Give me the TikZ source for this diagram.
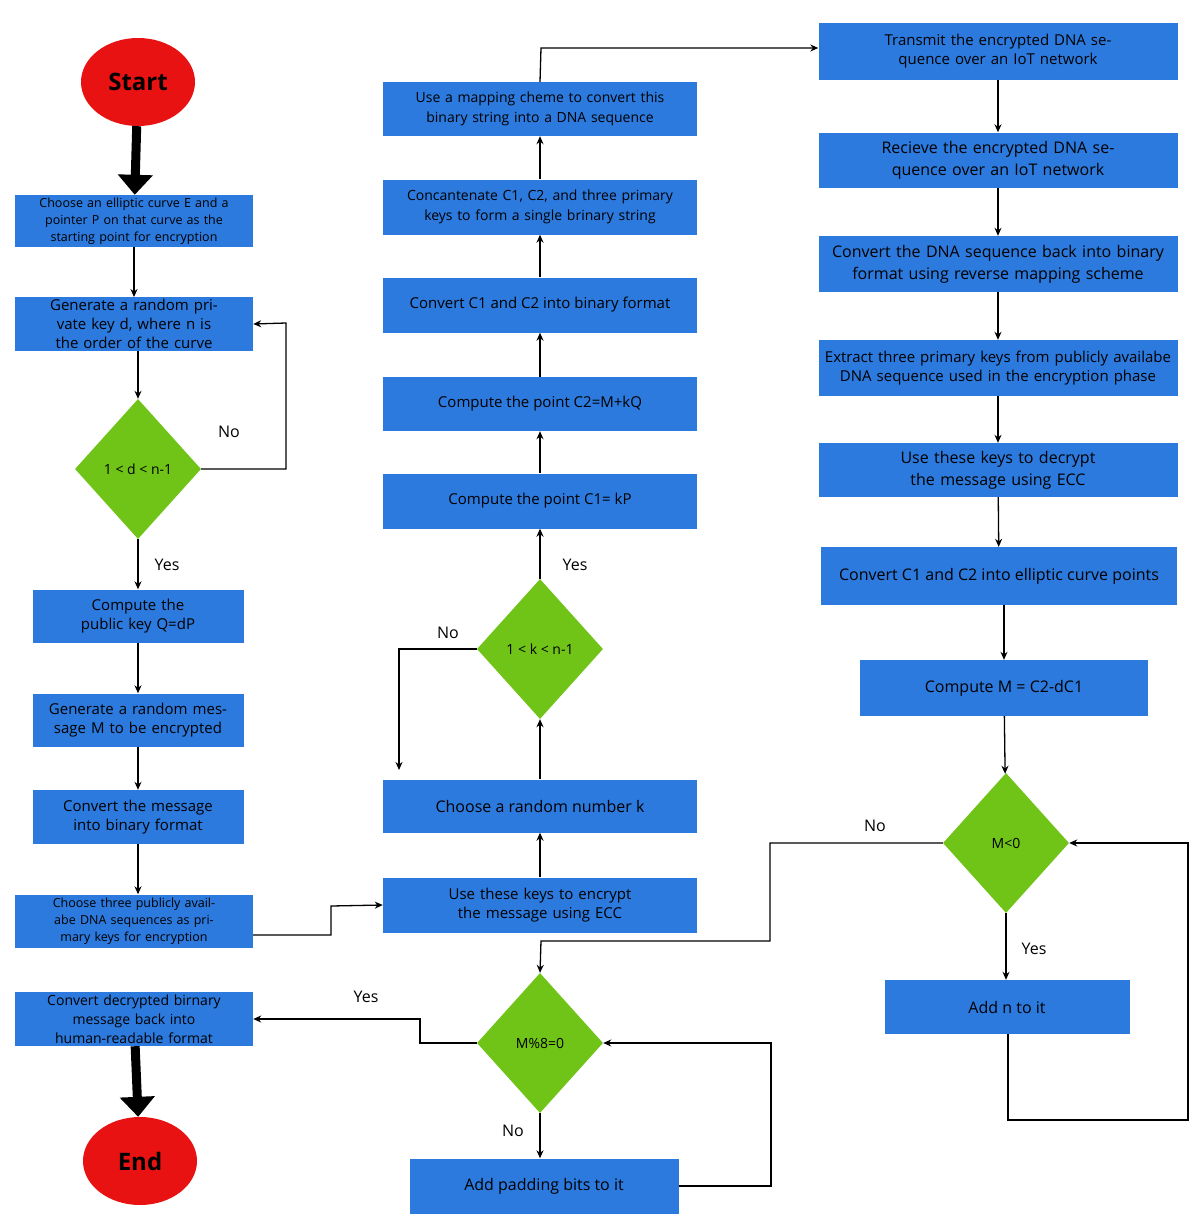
\documentclass[tikz,border=0pt]{standalone}
\usepackage{fontspec}
\setmainfont{Open Sans}
\usetikzlibrary{shapes.geometric,arrows.meta}
\definecolor{bx}{RGB}{44,122,222}
\definecolor{gd}{RGB}{112,196,24}
\definecolor{rd}{RGB}{232,18,18}
\begin{document}
\begin{tikzpicture}[x=1pt,y=-1pt,
 box/.style={fill=bx,draw=none,inner sep=2pt,align=center,minimum height=54pt,font=\fontsize{15}{19}\selectfont},
 sbox/.style={box,font=\fontsize{12.5}{17}\selectfont},
 dia/.style={diamond,fill=gd,draw=none,minimum width=126pt,minimum height=140pt,inner sep=0pt,aspect=0.9,font=\fontsize{14}{17}\selectfont},
 ov/.style={ellipse,fill=rd,minimum width=114pt,minimum height=88pt,font=\bfseries\fontsize{24}{28}\selectfont},
 ar/.style={draw=black,line width=1.3pt,-{Stealth[length=8pt,width=7pt]}},
 big/.style={draw=black,line width=9pt,-{Triangle[length=20pt,width=34pt]}},
 lb/.style={font=\fontsize{16}{19}\selectfont}]
\useasboundingbox (0,0) rectangle (1200,1229);
\fill[white] (0,0) rectangle (1200,1229);
% left column
\node[ov] (start) at (138,82) {Start};
\node[sbox,minimum width=238pt,minimum height=52pt,text width=232pt] (b1) at (134,221) {Choose an elliptic curve E and a pointer P on that curve as the starting point for encryption};
\node[box,minimum width=238pt,minimum height=52pt,text width=232pt] (b2) at (134,324) {Generate a random private key d, where n is the order of the curve};
\node[dia] (d1) at (138,469) {1 < d < n-1};
\node[box,minimum width=211pt,minimum height=53pt,text width=205pt] (b3) at (138,616) {Compute the public key Q=dP};
\node[box,minimum width=211pt,minimum height=53pt,text width=205pt] (b4) at (138,720) {Generate a random message M to be encrypted};
\node[box,minimum width=211pt,minimum height=54pt,text width=205pt] (b5) at (138,817) {Convert the message into binary format};
\node[sbox,minimum width=238pt,minimum height=53pt,text width=232pt] (b6) at (134,921) {Choose three publicly availabe DNA sequences as primary keys for encryption};
\node[sbox,minimum width=238pt,minimum height=54pt,text width=232pt,font=\fontsize{14}{19}\selectfont] (b7) at (134,1019) {Convert decrypted birnary message back into human-readable format};
\node[ov] (end) at (140,1161) {End};
% middle column
\node[box,minimum width=314pt,minimum height=55pt,text width=300pt] (m1) at (540,905) {Use these keys to encrypt the message using ECC};
\node[box,minimum width=314pt,minimum height=53pt,font=\fontsize{16}{19}\selectfont] (m2) at (540,806) {Choose a random number k};
\node[dia] (d2) at (540,649) {1 < k < n-1};
\node[box,minimum width=314pt,minimum height=55pt] (m3) at (540,501) {Compute the point C1= kP};
\node[box,minimum width=314pt,minimum height=54pt] (m4) at (540,404) {Compute the point C2=M+kQ};
\node[box,minimum width=314pt,minimum height=55pt] (m5) at (540,305) {Convert C1 and C2 into binary format};
\node[box,minimum width=314pt,minimum height=55pt,text width=300pt,font=\fontsize{14}{20}\selectfont] (m6) at (540,207) {Concantenate C1, C2, and three primary keys to form a single brinary string};
\node[box,minimum width=314pt,minimum height=54pt,text width=300pt,font=\fontsize{14}{20}\selectfont] (m7) at (540,109) {Use a mapping cheme to convert this binary string into a DNA sequence};
\node[dia] (d3) at (540,1043) {M\%8=0};
\node[box,minimum width=269pt,minimum height=55pt,font=\fontsize{16}{19}\selectfont] (m8) at (544,1186) {Add padding bits to it};
% right column
\node[box,minimum width=359pt,minimum height=57pt,text width=345pt] (r1) at (998,51) {Transmit the encrypted DNA sequence over an IoT network};
\node[box,minimum width=359pt,minimum height=55pt,text width=345pt,font=\fontsize{16}{22}\selectfont] (r2) at (998,160) {Recieve the encrypted DNA sequence over an IoT network};
\node[box,minimum width=359pt,minimum height=56pt,text width=345pt,font=\fontsize{16}{22}\selectfont] (r3) at (998,264) {Convert the DNA sequence back into binary format using reverse mapping scheme};
\node[box,minimum width=359pt,minimum height=56pt,text width=355pt] (r4) at (998,368) {Extract three primary keys from publicly availabe DNA sequence used in the encryption phase};
\node[box,minimum width=359pt,minimum height=54pt,text width=355pt,font=\fontsize{16}{22}\selectfont] (r5) at (998,470) {Use these keys to decrypt the message using ECC};
\node[box,minimum width=356pt,minimum height=58pt,font=\fontsize{16}{19}\selectfont] (r6) at (999,576) {Convert C1 and C2 into elliptic curve points};
\node[box,minimum width=288pt,minimum height=56pt,font=\fontsize{16}{19}\selectfont] (r7) at (1004,688) {Compute M = C2-dC1};
\node[dia] (d4) at (1006,843) {M<0};
\node[box,minimum width=245pt,minimum height=54pt,font=\fontsize{16}{19}\selectfont] (r8) at (1007,1007) {Add n to it};
% connectors
\draw[big] (start) -- (b1);
\draw[big] (b7) -- (end);
\draw[ar] (b1) -- (b2);
\draw[ar] (b2.south -| d1) -- (d1);
\draw[ar] (d1) -- (b3);
\draw[ar] (b3) -- (b4);
\draw[ar] (b4) -- (b5);
\draw[ar] (b5) -- (b6.north -| b5);
\draw[ar] (d1.east) -- (286,469) -- (286,323) -- (b2.east);
\draw[ar] (b6.east |- 0,935) -- (331,935) -- (331,906) -- (m1.west);
\draw[ar] (m1) -- (m2);
\draw[ar] (m2) -- (d2);
\draw[ar] (d2) -- (m3);
\coordinate (kfree) at (399,770);
\draw[ar] (d2.west) -- (399,649) -- (kfree);
\draw[ar] (m3) -- (m4);
\draw[ar] (m4) -- (m5);
\draw[ar] (m5) -- (m6);
\draw[ar] (m6) -- (m7);
\draw[ar] (m7.north) -- (541,48) -- (r1.west |- 0,48);
\draw[ar] (r1) -- (r2);
\draw[ar] (r2) -- (r3);
\draw[ar] (r3) -- (r4);
\draw[ar] (r4) -- (r5);
\draw[ar] (r5) -- (r6);
\draw[ar] (r6.south -| r7) -- (r7);
\draw[ar] (r7) -- (d4);
\draw[ar] (d4) -- (r8.north -| d4);
\draw[ar] (d4.west) -- (770,843) -- (770,941) -- (541,941) -- (d3.north);
\draw[ar] (r8.south -| 1008,0) -- (1008,1120) -- (1188,1120) -- (1188,843) -- (d4.east);
\draw[ar] (d3.west) -- (420,1043) -- (420,1019) -- (b7.east);
\draw[ar] (d3) -- (m8.north -| d3);
\draw[ar] (m8.east) -- (771,1186) -- (771,1043) -- (d3.east);
% labels
\node[lb] at (229,432) {No};
\node[lb] at (167,565) {Yes};
\node[lb] at (448,633) {No};
\node[lb] at (575,565) {Yes};
\node[lb] at (875,826) {No};
\node[lb] at (1034,949) {Yes};
\node[lb] at (366,997) {Yes};
\node[lb] at (513,1131) {No};
\end{tikzpicture}
\end{document}
